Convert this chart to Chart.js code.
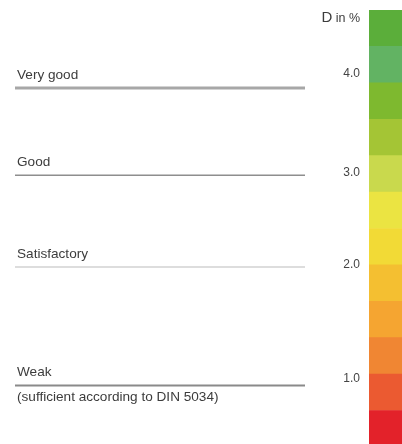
<!DOCTYPE html>
<html>
<head>
<meta charset="utf-8">
<script src="https://cdn.jsdelivr.net/npm/chart.js@4/dist/chart.umd.min.js"></script>
<style>
  html, body { margin: 0; padding: 0; background: #fff; }
  #wrap { position: relative; width: 402px; height: 444px; overflow: hidden; }
  #ratingChart { position: absolute; left: 0; top: 0; }
  #scaleChart { position: absolute; left: 310px; top: 0; }
</style>
</head>
<body>
<div id="wrap">
  <canvas id="ratingChart" width="320" height="444"></canvas>
  <canvas id="scaleChart" width="92" height="444"></canvas>
</div>
<script>
// rating thresholds (position on the colour scale, 12 steps)
const ratingLabels = ["Very good", "Good", "Satisfactory", "Weak"];
const ratingNotes = ["", "", "", "(sufficient according to DIN 5034)"];
const ratingLevels = [9.86, 7.46, 4.94, 1.69];
const ratingColors = ["#a7a7a7", "#8e8e8e", "#dddddd", "#8a8a8a"];
const ratingWidths = [3, 1.5, 2, 2];

// colour scale, bottom to top
const stepColors = ["#e3222a", "#eb5a31", "#f08633", "#f5a531", "#f4bf31", "#f2da36",
                    "#ebe442", "#c9d94d", "#a4c535", "#7eb92f", "#62b363", "#5bae3a"];
const stepValues = [1, 1, 1, 1, 1, 1, 1, 1, 1, 1, 1, 1];

// D in % tick labels and where they sit on the scale
const tickLabels = ["1.0", "2.0", "3.0", "4.0"];
const tickLevels = [1.87, 5.0, 7.52, 10.24];

const yMin = 0.08, yMax = 12;
const font = "'Liberation Sans', Arial, sans-serif";
const textColor = "#3c3c3c";

Chart.defaults.font.family = font;
Chart.defaults.animation = false;

const labelPlugin = {
    id: "ratingText",
    afterDatasetsDraw(chart) {
        const ctx = chart.ctx;
        ctx.save();
        ctx.fillStyle = textColor;
        ctx.font = "13.6px " + font;
        ctx.textAlign = "left";
        ctx.textBaseline = "alphabetic";
        chart.data.datasets.forEach((ds, i) => {
            const y = chart.getDatasetMeta(i).data[0].y;
            ctx.fillText(ratingLabels[i], 17, y - 9);
            if (ratingNotes[i]) ctx.fillText(ratingNotes[i], 17, y + 16);
        });
        ctx.restore();
    }
};

new Chart(document.getElementById("ratingChart"), {
    type: "line",
    data: {
        datasets: ratingLabels.map((lbl, i) => ({
            label: lbl,
            data: [{ x: 0, y: ratingLevels[i] }, { x: 1, y: ratingLevels[i] }],
            borderColor: ratingColors[i],
            borderWidth: ratingWidths[i],
            pointRadius: 0,
            fill: false
        }))
    },
    options: {
        responsive: false,
        layout: { padding: { left: 15, right: 15, top: 10, bottom: 0 } },
        plugins: { legend: { display: false }, tooltip: { enabled: false } },
        scales: {
            x: { type: "linear", min: 0, max: 1, display: false },
            y: { min: yMin, max: yMax, display: false }
        }
    },
    plugins: [labelPlugin]
});

const unitPlugin = {
    id: "unitText",
    afterDraw(chart) {
        const ctx = chart.ctx;
        const x = chart.chartArea.left - 9;
        ctx.save();
        ctx.fillStyle = textColor;
        ctx.textAlign = "right";
        ctx.textBaseline = "alphabetic";
        ctx.font = "12.5px " + font;
        ctx.fillText(" in %", x, 22);
        const w = ctx.measureText(" in %").width;
        ctx.font = "15px " + font;
        ctx.fillText("D", x - w, 22);
        ctx.restore();
    }
};

new Chart(document.getElementById("scaleChart"), {
    type: "bar",
    data: {
        labels: ["D"],
        datasets: stepColors.map((c, i) => ({
            data: [stepValues[i]],
            backgroundColor: c,
            borderWidth: 0,
            barPercentage: 1,
            categoryPercentage: 1
        }))
    },
    options: {
        responsive: false,
        layout: { padding: { left: 0, right: 0, top: 10, bottom: 0 } },
        plugins: { legend: { display: false }, tooltip: { enabled: false } },
        scales: {
            x: { stacked: true, display: false },
            y: {
                stacked: true,
                min: yMin,
                max: yMax,
                grid: { display: false, drawTicks: false },
                border: { display: false },
                ticks: {
                    autoSkip: false,
                    padding: 9,
                    color: "#444",
                    font: { size: 12 },
                    callback: (v, i) => tickLabels[i]
                },
                afterBuildTicks: (scale) => {
                    scale.ticks = tickLevels.map(v => ({ value: v }));
                },
                afterFit: (scale) => {
                    scale.width = 59;
                    scale.paddingTop = 0;
                    scale.paddingBottom = 0;
                }
            }
        }
    },
    plugins: [unitPlugin]
});
</script>
</body>
</html>
